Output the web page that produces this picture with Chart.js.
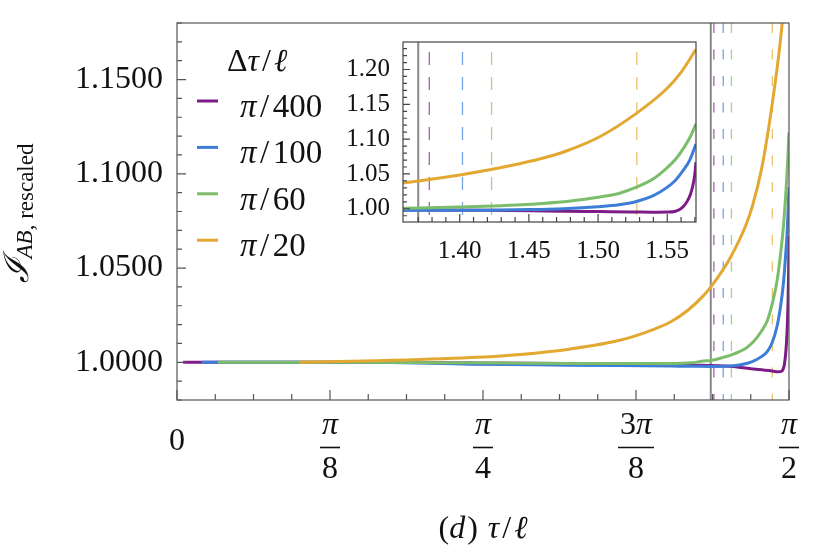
<!DOCTYPE html>
<html>
<head>
<meta charset="utf-8">
<script src="https://cdn.jsdelivr.net/npm/chart.js@4"></script>
<style>
  body { margin: 0; background: #fff; }
  #box { position: relative; width: 814px; height: 558px; }
  canvas { position: absolute; }
</style>
</head>
<body>
<div id="box">
  <canvas id="mainChart" width="814" height="558" style="left:0;top:0"></canvas>
  <canvas id="insetChart" width="375" height="235" style="left:330px;top:36px"></canvas>
</div>
<script>
/******************** data ********************/

var names  = ["π/400", "π/100", "π/60", "π/20"];
var colors = ["#7d1c87", "#3d7dd8", "#7cbd6c", "#e3a831"];

var xP400 = [0.0157, 0.25, 0.5, 0.7533, 1.0, 1.2675, 1.3189, 1.42, 1.4731, 1.5012, 1.5245, 1.5433, 1.551, 1.556, 1.559, 1.562, 1.5645, 1.5668, 1.5685, 1.5699, 1.5708];
var yP400 = [1.0, 1.0, 1.0, 0.9997, 0.9993, 0.9986, 0.9985, 0.9979, 0.9966, 0.996, 0.9955, 0.995, 0.9952, 0.9965, 0.999, 1.004, 1.011, 1.021, 1.033, 1.049, 1.067];

var xP100 = [0.0628, 0.25, 0.5, 0.7533, 1.0, 1.2675, 1.3189, 1.37, 1.42, 1.45, 1.475, 1.50, 1.515, 1.5277, 1.54, 1.5494, 1.556, 1.5615, 1.5663, 1.5708];
var yP100 = [1.0, 1.0, 1.0, 0.999, 0.9985, 0.998, 0.9979, 0.9978, 0.998, 0.9988, 1.0002, 1.003, 1.0057, 1.0105, 1.019, 1.030, 1.041, 1.055, 1.070, 1.093];

var xP60 = [0.1047, 0.3, 0.5, 0.7533, 1.0, 1.2675, 1.3189, 1.352, 1.3703, 1.40, 1.43, 1.46, 1.48, 1.50, 1.515, 1.5277, 1.54, 1.5494, 1.556, 1.5615, 1.5663, 1.5708];
var yP60 = [1.0, 1.0, 1.0, 0.9997, 0.9994, 0.9993, 0.9997, 1.0007, 1.001, 1.0025, 1.0045, 1.0075, 1.011, 1.0165, 1.022, 1.031, 1.043, 1.058, 1.071, 1.086, 1.102, 1.122];

var xP20 = [0.3142, 0.514, 0.7533, 0.8818, 1.0104, 1.1389, 1.2238, 1.2675, 1.3104, 1.352, 1.3703, 1.4012, 1.4216, 1.4577, 1.4771, 1.5012, 1.5277, 1.5494, 1.56, 1.5708];
var yP20 = [1.0, 1.0008, 1.0025, 1.0042, 1.0071, 1.0118, 1.0175, 1.0215, 1.0275, 1.0355, 1.040, 1.049, 1.056, 1.0715, 1.083, 1.1034, 1.137, 1.172, 1.196, 1.229];

var seriesX = [xP400, xP100, xP60, xP20];
var seriesY = [yP400, yP100, yP60, yP20];

// vertical guides: solid gray cut, dashed markers (one per series)
var cutX  = 1.370;
var markX = [1.378, 1.402, 1.423, 1.528];

// axes
var PI = Math.PI;
var mainXMajor  = [0, PI / 8, PI / 4, 3 * PI / 8, PI / 2];
var mainXLabels = [["0"], ["π", "8"], ["π", "4"], ["3π", "8"], ["π", "2"]];
var mainYLabels = [1.00, 1.05, 1.10, 1.15];
var insetXLabels = [1.40, 1.45, 1.50, 1.55];
var insetYLabels = [1.00, 1.05, 1.10, 1.15, 1.20];

/******************** helpers ********************/

var SERIF = '"Liberation Serif", "DejaVu Serif", serif';
function font(sz, it) { return (it ? "italic " : "") + sz + "px " + SERIF; }

function runsWidth(ctx, runs) {
  var w = 0;
  runs.forEach(function (r) { ctx.font = r.f; w += ctx.measureText(r.t).width + (r.sp || 0); });
  return w;
}
function drawRuns(ctx, runs, x, y) {
  runs.forEach(function (r) {
    ctx.font = r.f;
    ctx.fillText(r.t, x + (r.sp || 0) / 2, y);
    x += ctx.measureText(r.t).width + (r.sp || 0);
  });
}
function near(v, list) {
  return list.some(function (m) { return Math.abs(m - v) < 1e-6; });
}
function fade(hex, a) {
  var n = parseInt(hex.slice(1), 16);
  return "rgba(" + (n >> 16) + "," + ((n >> 8) & 255) + "," + (n & 255) + "," + a + ")";
}
function noPad(s) { s.paddingTop = 0; s.paddingBottom = 0; s.paddingLeft = 0; s.paddingRight = 0; }

function makeDatasets() {
  return seriesX.map(function (xs, i) {
    return {
      label: names[i],
      data: xs.map(function (x, j) { return { x: x, y: seriesY[i][j] }; }),
      borderColor: colors[i],
      borderWidth: 3,
      pointRadius: 0,
      fill: false,
      cubicInterpolationMode: "monotone",
      order: 3 - i
    };
  });
}

// frame + inward ticks
function frameTicks(o) {
  return {
    id: "frameTicks",
    beforeDraw: function (chart) {
      var a = chart.chartArea, ctx = chart.ctx;
      ctx.save();
      ctx.fillStyle = "#fff";
      ctx.fillRect(a.left, a.top, a.right - a.left, a.bottom - a.top);
      ctx.restore();
    },
    afterDraw: function (chart) {
      var ctx = chart.ctx, a = chart.chartArea, sx = chart.scales.x, sy = chart.scales.y;
      ctx.save();
      ctx.strokeStyle = o.color;
      ctx.lineWidth = 1.2;
      ctx.strokeRect(a.left, a.top, a.right - a.left, a.bottom - a.top);
      ctx.beginPath();
      sy.ticks.forEach(function (t) {
        var py = sy.getPixelForValue(t.value);
        var len = near(t.value, o.yMajor) ? o.yLong : o.yShort;
        ctx.moveTo(a.left, py); ctx.lineTo(a.left + len, py);
      });
      sx.ticks.forEach(function (t) {
        var px = sx.getPixelForValue(t.value);
        var len = near(t.value, o.xMajor) ? o.xLong : o.xShort;
        ctx.moveTo(px, a.bottom); ctx.lineTo(px, a.bottom - len);
      });
      ctx.stroke();
      ctx.restore();
    }
  };
}

// gray cut and dashed markers
function guideLines(pattern, offset) {
  return {
    id: "guideLines",
    beforeDatasetsDraw: function (chart) {
      var ctx = chart.ctx, a = chart.chartArea, sx = chart.scales.x;
      ctx.save();
      ctx.beginPath();
      ctx.rect(a.left, a.top, a.right - a.left, a.bottom - a.top);
      ctx.clip();
      ctx.strokeStyle = "#8a8a8a";
      ctx.lineWidth = 2;
      var px = sx.getPixelForValue(cutX);
      ctx.beginPath(); ctx.moveTo(px, a.top); ctx.lineTo(px, a.bottom); ctx.stroke();
      ctx.setLineDash(pattern);
      ctx.lineDashOffset = offset;
      ctx.lineWidth = 1.3;
      markX.forEach(function (v, i) {
        var p = sx.getPixelForValue(v);
        ctx.strokeStyle = fade(colors[i], 0.7);
        ctx.beginPath(); ctx.moveTo(p, a.top); ctx.lineTo(p, a.bottom); ctx.stroke();
      });
      ctx.restore();
    }
  };
}

// legend, fraction tick labels, axis titles on the main chart
var mainDecor = {
  id: "mainDecor",
  afterDraw: function (chart) {
    var ctx = chart.ctx, sx = chart.scales.x, a = chart.chartArea;
    ctx.save();
    ctx.fillStyle = "#111";
    ctx.textAlign = "left";
    ctx.textBaseline = "alphabetic";

    // legend
    drawRuns(ctx, [{ t: "Δ", f: font(32) }, { t: "τ", f: font(32, true) }, { t: "/", f: font(32), sp: 6 }, { t: "ℓ", f: font(32, true) }], 227, 71);
    chart.data.datasets.forEach(function (ds, i) {
      var ly = 101 + i * 46.4;
      ctx.strokeStyle = ds.borderColor;
      ctx.lineWidth = 3;
      ctx.beginPath(); ctx.moveTo(197, ly); ctx.lineTo(218, ly); ctx.stroke();
      var parts = ds.label.split("/");
      drawRuns(ctx, [{ t: "π", f: font(33, true) }, { t: "/", f: font(33), sp: 7 }, { t: parts[1], f: font(33) }], 240, ly + 16);
    });

    // x tick labels as fractions
    mainXMajor.forEach(function (v, i) {
      var cx = sx.getPixelForValue(v), lab = mainXLabels[i];
      if (lab.length === 1) {
        var w0 = runsWidth(ctx, [{ t: lab[0], f: font(32) }]);
        drawRuns(ctx, [{ t: lab[0], f: font(32) }], cx - w0 / 2, 450);
        return;
      }
      var num = lab[0].length > 1
        ? [{ t: lab[0].slice(0, -1), f: font(32) }, { t: "π", f: font(32, true) }]
        : [{ t: "π", f: font(32, true) }];
      var den = [{ t: lab[1], f: font(32) }];
      var wn = runsWidth(ctx, num), wd = runsWidth(ctx, den);
      drawRuns(ctx, num, cx - wn / 2, 434);
      drawRuns(ctx, den, cx - wd / 2, 478);
      var bw = Math.max(wn, wd) + 4;
      ctx.strokeStyle = "#111";
      ctx.lineWidth = 1.6;
      ctx.beginPath(); ctx.moveTo(cx - bw / 2, 447.5); ctx.lineTo(cx + bw / 2, 447.5); ctx.stroke();
    });

    // x title
    var xt = [{ t: "(", f: font(32) }, { t: "d", f: font(32, true) }, { t: ") ", f: font(32), sp: 4 },
              { t: "τ", f: font(32, true) }, { t: "/", f: font(32), sp: 6 }, { t: "ℓ", f: font(32, true) }];
    drawRuns(ctx, xt, (a.left + a.right) / 2 - runsWidth(ctx, xt) / 2, 538);

    // y title, rotated
    var yt = [{ t: "ℐ", f: font(34, true), dy: 0 }, { t: "AB", f: font(23, true), dy: 4 },
              { t: ", rescaled", f: font(23), dy: 5 }];
    var tw = runsWidth(ctx, yt);
    ctx.translate(28, (a.top + a.bottom) / 2 + 2);
    ctx.rotate(-Math.PI / 2);
    var x0 = -tw / 2;
    yt.forEach(function (r) {
      ctx.font = r.f;
      ctx.fillText(r.t, x0, r.dy);
      x0 += ctx.measureText(r.t).width;
    });
    ctx.restore();
  }
};

/******************** main chart ********************/

var mainXTicks = [];
for (var k = 0; k <= 16; k++) mainXTicks.push(k * PI / 32);
var mainYTicks = [];
for (var k2 = 98; k2 <= 118; k2++) mainYTicks.push(k2 / 100);

new Chart(document.getElementById("mainChart"), {
  type: "line",
  data: { datasets: makeDatasets() },
  options: {
    responsive: false,
    animation: false,
    events: [],
    layout: { padding: { top: 23, right: 25, left: 0, bottom: 0 } },
    plugins: { legend: { display: false }, tooltip: { enabled: false } },
    scales: {
      x: {
        type: "linear", min: 0, max: PI / 2,
        grid: { display: false }, border: { display: false },
        ticks: { display: false, autoSkip: false },
        afterBuildTicks: function (s) { s.ticks = mainXTicks.map(function (v) { return { value: v }; }); },
        afterFit: function (s) { s.height = 158; noPad(s); }
      },
      y: {
        type: "linear", min: 0.98, max: 1.18,
        grid: { display: false, drawTicks: false }, border: { display: false },
        ticks: {
          autoSkip: false, padding: 14, color: "#111",
          font: { family: SERIF, size: 32 },
          callback: function (v) { return near(v, mainYLabels) ? v.toFixed(4) : ""; }
        },
        afterBuildTicks: function (s) { s.ticks = mainYTicks.map(function (v) { return { value: v }; }); },
        afterFit: function (s) { s.width = 177; noPad(s); }
      }
    }
  },
  plugins: [frameTicks({ color: "#555", yMajor: mainYLabels, xMajor: mainXMajor, yLong: 9, yShort: 5, xLong: 10, xShort: 6 }),
            guideLines([10, 16.5], 0), mainDecor]
});

/******************** inset ********************/

var insetXTicks = [];
for (var k3 = 137; k3 <= 157; k3++) insetXTicks.push(k3 / 100);
var insetYTicks = [];
for (var k4 = 99; k4 <= 123; k4++) insetYTicks.push(k4 / 100);

new Chart(document.getElementById("insetChart"), {
  type: "line",
  data: { datasets: makeDatasets() },
  options: {
    responsive: false,
    animation: false,
    events: [],
    layout: { padding: { top: 6, right: 9, left: 0, bottom: 0 } },
    plugins: { legend: { display: false }, tooltip: { enabled: false } },
    scales: {
      x: {
        type: "linear", min: 1.359, max: PI / 2,
        grid: { display: false, drawTicks: false }, border: { display: false },
        ticks: {
          autoSkip: false, maxRotation: 0, padding: 14, color: "#111",
          font: { family: SERIF, size: 25 },
          callback: function (v) { return near(v, insetXLabels) ? v.toFixed(2) : ""; }
        },
        afterBuildTicks: function (s) { s.ticks = insetXTicks.map(function (v) { return { value: v }; }); },
        afterFit: function (s) { s.height = 49; noPad(s); }
      },
      y: {
        type: "linear", min: 0.981, max: 1.2395,
        grid: { display: false, drawTicks: false }, border: { display: false },
        ticks: {
          autoSkip: false, padding: 13, color: "#111",
          font: { family: SERIF, size: 25 },
          callback: function (v) { return near(v, insetYLabels) ? v.toFixed(2) : ""; }
        },
        afterBuildTicks: function (s) { s.ticks = insetYTicks.map(function (v) { return { value: v }; }); },
        afterFit: function (s) { s.width = 73; noPad(s); }
      }
    }
  },
  plugins: [frameTicks({ color: "#444", yMajor: insetYLabels, xMajor: insetXLabels, yLong: 7, yShort: 4, xLong: 8, xShort: 5 }),
            guideLines([13, 12], -10)]
});
</script>
</body>
</html>
